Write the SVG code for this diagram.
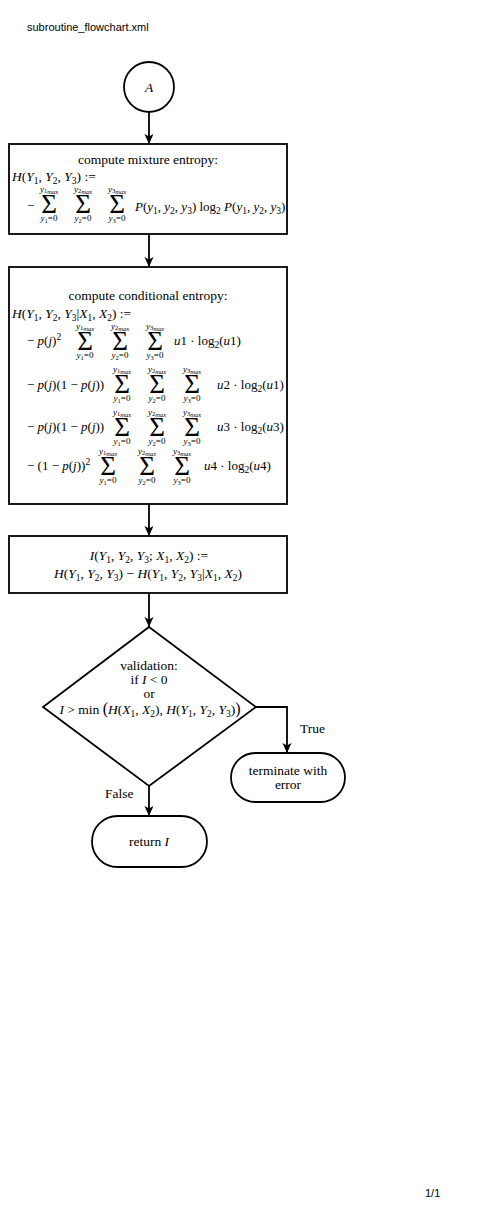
<svg xmlns="http://www.w3.org/2000/svg" xmlns:xlink="http://www.w3.org/1999/xlink" width="479" height="1222" viewBox="0 0 479 1222">
<style>
.bg{fill:#fff}
.n{fill:#fff;stroke:#000;stroke-width:1.8}
.e{fill:none;stroke:#000;stroke-width:1.8}
.hdr{font-family:"Liberation Sans",Arial,sans-serif;font-size:11px;fill:#000}
.t{font-family:"Liberation Serif","DejaVu Serif",serif;font-size:13px;fill:#000}
.lb{font-size:13.5px}
.c{text-anchor:middle}
.i{font-style:italic}
.sb{font-size:9.5px}
.lim{font-size:9px}
.sx{font-size:6.5px}
.sig{font-size:27px}
.bp{font-size:16px}
</style>
<defs>
<marker id="arr" viewBox="0 0 10 10" refX="10" refY="5" markerWidth="10" markerHeight="10" markerUnits="userSpaceOnUse" orient="auto">
<path d="M0,0.5 L10,5 L0,9.5 L2.5,5 z" fill="#000"/>
</marker>
<g id="s1"><text class="t lim c" y="-12.5"><tspan class="i">y</tspan><tspan class="sx" dy="1.5">1</tspan><tspan class="sx i" dy="1">max</tspan></text><text class="t sig c" y="9">Σ</text><text class="t lim c" y="17"><tspan class="i">y</tspan><tspan class="sx" dy="2">1</tspan><tspan dy="-2">=0</tspan></text></g>
<g id="s2"><text class="t lim c" y="-12.5"><tspan class="i">y</tspan><tspan class="sx" dy="1.5">2</tspan><tspan class="sx i" dy="1">max</tspan></text><text class="t sig c" y="9">Σ</text><text class="t lim c" y="17"><tspan class="i">y</tspan><tspan class="sx" dy="2">2</tspan><tspan dy="-2">=0</tspan></text></g>
<g id="s3"><text class="t lim c" y="-12.5"><tspan class="i">y</tspan><tspan class="sx" dy="1.5">3</tspan><tspan class="sx i" dy="1">max</tspan></text><text class="t sig c" y="9">Σ</text><text class="t lim c" y="17"><tspan class="i">y</tspan><tspan class="sx" dy="2">3</tspan><tspan dy="-2">=0</tspan></text></g>
</defs>
<rect class="bg" x="0" y="0" width="479" height="1222"/>
<text class="hdr" x="27" y="31">subroutine_flowchart.xml</text>
<text class="hdr" x="425" y="1197">1/1</text>

<g id="connectors">
<path class="e" d="M149,112 V144" marker-end="url(#arr)"/>
<path class="e" d="M149,234 V267" marker-end="url(#arr)"/>
<path class="e" d="M149,504 V536" marker-end="url(#arr)"/>
<path class="e" d="M149,593 V627" marker-end="url(#arr)"/>
<path class="e" d="M256,707 H287 V753" marker-end="url(#arr)"/>
<path class="e" d="M149,786 V816" marker-end="url(#arr)"/>
<text class="t lb" x="300" y="733">True</text>
<text class="t lb" x="105" y="798">False</text>
</g>

<g id="start">
<circle class="n" cx="149" cy="87" r="25"/>
<text class="t lb c i" x="149" y="92">A</text>
</g>

<g id="mixture">
<rect class="n" x="9" y="144" width="278" height="90"/>
<text class="t lb c" x="148" y="164">compute mixture entropy:</text>
<text class="t lb" x="12" y="181"><tspan class="i">H</tspan>(<tspan class="i">Y</tspan><tspan class="sb" dy="3">1</tspan><tspan dy="-3">, </tspan><tspan class="i">Y</tspan><tspan class="sb" dy="3">2</tspan><tspan dy="-3">, </tspan><tspan class="i">Y</tspan><tspan class="sb" dy="3">3</tspan><tspan dy="-3">) :=</tspan></text>
<text class="t" x="27" y="210">−</text>
<use xlink:href="#s1" x="49" y="204"/>
<use xlink:href="#s2" x="83" y="204"/>
<use xlink:href="#s3" x="117" y="204"/>
<text class="t" x="135" y="211"><tspan class="i">P</tspan>(<tspan class="i">y</tspan><tspan class="sb" dy="3">1</tspan><tspan dy="-3">, </tspan><tspan class="i">y</tspan><tspan class="sb" dy="3">2</tspan><tspan dy="-3">, </tspan><tspan class="i">y</tspan><tspan class="sb" dy="3">3</tspan><tspan dy="-3">) log</tspan><tspan class="sb" dy="3">2</tspan><tspan dy="-3"> </tspan><tspan class="i">P</tspan>(<tspan class="i">y</tspan><tspan class="sb" dy="3">1</tspan><tspan dy="-3">, </tspan><tspan class="i">y</tspan><tspan class="sb" dy="3">2</tspan><tspan dy="-3">, </tspan><tspan class="i">y</tspan><tspan class="sb" dy="3">3</tspan><tspan dy="-3">)</tspan></text>
</g>

<g id="conditional">
<rect class="n" x="9" y="267" width="278" height="237"/>
<text class="t lb c" x="148" y="300">compute conditional entropy:</text>
<text class="t lb" x="12" y="318"><tspan class="i">H</tspan>(<tspan class="i">Y</tspan><tspan class="sb" dy="3">1</tspan><tspan dy="-3">, </tspan><tspan class="i">Y</tspan><tspan class="sb" dy="3">2</tspan><tspan dy="-3">, </tspan><tspan class="i">Y</tspan><tspan class="sb" dy="3">3</tspan><tspan dy="-3">|</tspan><tspan class="i">X</tspan><tspan class="sb" dy="3">1</tspan><tspan dy="-3">, </tspan><tspan class="i">X</tspan><tspan class="sb" dy="3">2</tspan><tspan dy="-3">) :=</tspan></text>

<text class="t" x="27" y="345">− <tspan class="i">p</tspan>(<tspan class="i">j</tspan>)<tspan class="sb" dy="-5">2</tspan></text>
<use xlink:href="#s1" x="85" y="341"/>
<use xlink:href="#s2" x="120" y="341"/>
<use xlink:href="#s3" x="155" y="341"/>
<text class="t" x="174" y="345"><tspan class="i">u</tspan>1 · log<tspan class="sb" dy="3">2</tspan><tspan dy="-3">(</tspan><tspan class="i">u</tspan>1)</text>

<text class="t" x="27" y="389">− <tspan class="i">p</tspan>(<tspan class="i">j</tspan>)(1 − <tspan class="i">p</tspan>(<tspan class="i">j</tspan>))</text>
<use xlink:href="#s1" x="122" y="384"/>
<use xlink:href="#s2" x="157" y="384"/>
<use xlink:href="#s3" x="192" y="384"/>
<text class="t" x="217" y="389"><tspan class="i">u</tspan>2 · log<tspan class="sb" dy="3">2</tspan><tspan dy="-3">(</tspan><tspan class="i">u</tspan>1)</text>

<text class="t" x="27" y="431">− <tspan class="i">p</tspan>(<tspan class="i">j</tspan>)(1 − <tspan class="i">p</tspan>(<tspan class="i">j</tspan>))</text>
<use xlink:href="#s1" x="122" y="427"/>
<use xlink:href="#s2" x="157" y="427"/>
<use xlink:href="#s3" x="192" y="427"/>
<text class="t" x="217" y="431"><tspan class="i">u</tspan>3 · log<tspan class="sb" dy="3">2</tspan><tspan dy="-3">(</tspan><tspan class="i">u</tspan>3)</text>

<text class="t" x="27" y="470">− (1 − <tspan class="i">p</tspan>(<tspan class="i">j</tspan>))<tspan class="sb" dy="-5">2</tspan></text>
<use xlink:href="#s1" x="108" y="466"/>
<use xlink:href="#s2" x="147" y="466"/>
<use xlink:href="#s3" x="182" y="466"/>
<text class="t" x="204" y="470"><tspan class="i">u</tspan>4 · log<tspan class="sb" dy="3">2</tspan><tspan dy="-3">(</tspan><tspan class="i">u</tspan>4)</text>
</g>

<g id="mutual">
<rect class="n" x="9" y="536" width="278" height="57"/>
<text class="t lb c" x="149" y="560"><tspan class="i">I</tspan>(<tspan class="i">Y</tspan><tspan class="sb" dy="3">1</tspan><tspan dy="-3">, </tspan><tspan class="i">Y</tspan><tspan class="sb" dy="3">2</tspan><tspan dy="-3">, </tspan><tspan class="i">Y</tspan><tspan class="sb" dy="3">3</tspan><tspan dy="-3">; </tspan><tspan class="i">X</tspan><tspan class="sb" dy="3">1</tspan><tspan dy="-3">, </tspan><tspan class="i">X</tspan><tspan class="sb" dy="3">2</tspan><tspan dy="-3">) :=</tspan></text>
<text class="t lb c" x="148" y="578"><tspan class="i">H</tspan>(<tspan class="i">Y</tspan><tspan class="sb" dy="3">1</tspan><tspan dy="-3">, </tspan><tspan class="i">Y</tspan><tspan class="sb" dy="3">2</tspan><tspan dy="-3">, </tspan><tspan class="i">Y</tspan><tspan class="sb" dy="3">3</tspan><tspan dy="-3">) − </tspan><tspan class="i">H</tspan>(<tspan class="i">Y</tspan><tspan class="sb" dy="3">1</tspan><tspan dy="-3">, </tspan><tspan class="i">Y</tspan><tspan class="sb" dy="3">2</tspan><tspan dy="-3">, </tspan><tspan class="i">Y</tspan><tspan class="sb" dy="3">3</tspan><tspan dy="-3">|</tspan><tspan class="i">X</tspan><tspan class="sb" dy="3">1</tspan><tspan dy="-3">, </tspan><tspan class="i">X</tspan><tspan class="sb" dy="3">2</tspan><tspan dy="-3">)</tspan></text>
</g>

<g id="validation">
<polygon class="n" points="149,627 256,707 149,786 43,707"/>
<text class="t lb c" x="149" y="670">validation:</text>
<text class="t lb c" x="149" y="684">if <tspan class="i">I</tspan> &lt; 0</text>
<text class="t lb c" x="149" y="698">or</text>
<text class="t lb c" x="150" y="714"><tspan class="i">I</tspan> &gt; min <tspan class="bp">(</tspan><tspan class="i">H</tspan>(<tspan class="i">X</tspan><tspan class="sb" dy="3">1</tspan><tspan dy="-3">, </tspan><tspan class="i">X</tspan><tspan class="sb" dy="3">2</tspan><tspan dy="-3">), </tspan><tspan class="i">H</tspan>(<tspan class="i">Y</tspan><tspan class="sb" dy="3">1</tspan><tspan dy="-3">, </tspan><tspan class="i">Y</tspan><tspan class="sb" dy="3">2</tspan><tspan dy="-3">, </tspan><tspan class="i">Y</tspan><tspan class="sb" dy="3">3</tspan><tspan dy="-3">)</tspan><tspan class="bp">)</tspan></text>
</g>

<g id="terminate">
<rect class="n" x="231" y="753" width="114" height="49" rx="24.5"/>
<text class="t lb c" x="288" y="775">terminate with</text>
<text class="t lb c" x="288" y="789">error</text>
</g>

<g id="return">
<rect class="n" x="92" y="816" width="115" height="51" rx="25.5"/>
<text class="t lb c" x="149" y="846">return <tspan class="i">I</tspan></text>
</g>
</svg>
